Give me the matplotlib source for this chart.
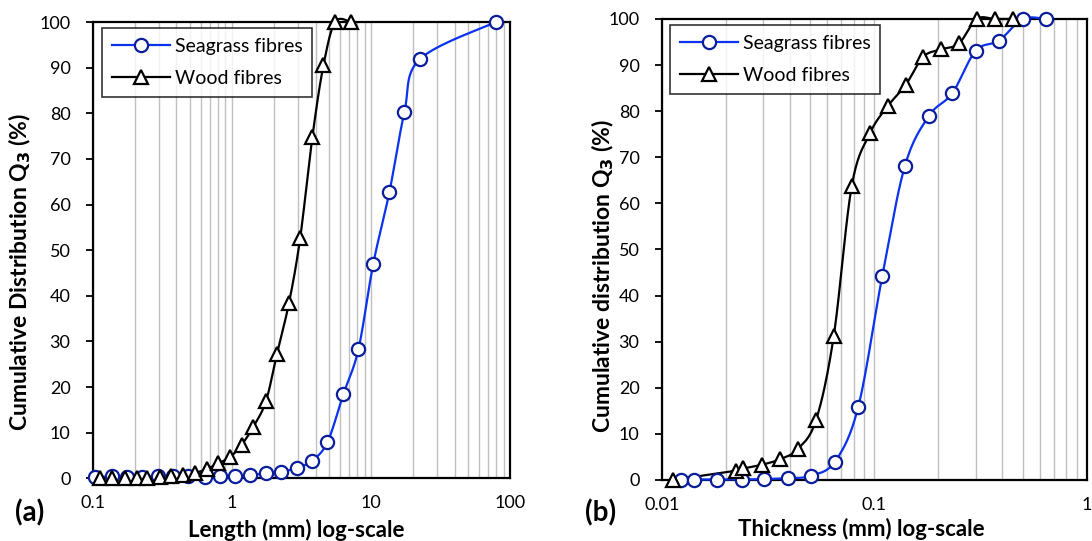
import numpy as np
import matplotlib.pyplot as plt
from matplotlib.ticker import LogLocator, FuncFormatter, MultipleLocator

plt.rcParams['font.family'] = ['Lato', 'DejaVu Sans']

# ---------------------------------------------------------------
# Data
# ---------------------------------------------------------------

# (a) length distribution
len_sea_x = [0.104, 0.137, 0.176, 0.225, 0.296, 0.38, 0.487, 0.643, 0.824,
             1.056, 1.355, 1.757, 2.26, 2.94, 3.76, 4.87, 6.35, 8.14, 10.4,
             13.6, 17.4, 22.4, 79.0]
len_sea_y = [0.3, 0.4, 0.35, 0.35, 0.5, 0.5, 0.5, 0.2, 0.4,
             0.6, 0.7, 1.1, 1.4, 2.3, 3.8, 7.9, 18.5, 28.3, 47.0,
             62.8, 80.2, 91.8, 100.0]

len_wood_x = [0.113, 0.137, 0.171, 0.207, 0.244, 0.305, 0.364, 0.449, 0.544,
              0.66, 0.80, 0.97, 1.18, 1.43, 1.76, 2.11, 2.58, 3.10, 3.80,
              4.56, 5.53, 7.18]
len_wood_y = [0.0, 0.0, 0.0, 0.0, 0.0, 0.2, 0.5, 0.7, 1.2,
              2.0, 3.3, 4.6, 7.4, 11.3, 16.9, 27.2, 38.5, 52.6, 74.9,
              90.5, 100.0, 100.0]

# (b) thickness distribution
thk_sea_x = [0.01233, 0.01419, 0.01815, 0.02379, 0.03029, 0.03944, 0.05023,
             0.06541, 0.08418, 0.1092, 0.1396, 0.1811, 0.2331, 0.3003,
             0.3866, 0.50, 0.6435]
thk_sea_y = [0.1, 0.1, 0.1, 0.1, 0.2, 0.4, 0.9,
             4.0, 15.9, 44.3, 68.2, 79.0, 83.9, 93.1,
             95.3, 100.0, 100.0]

thk_wood_x = [0.01126, 0.0223, 0.02422, 0.02955, 0.03603, 0.04365, 0.05324,
              0.06449, 0.0784, 0.0955, 0.1158, 0.1407, 0.1703, 0.2063,
              0.2506, 0.3037, 0.3702, 0.4486]
thk_wood_y = [0.0, 2.0, 2.5, 3.3, 4.5, 6.7, 13.0,
              31.2, 63.8, 75.2, 81.1, 85.7, 91.8, 93.4,
              94.7, 100.0, 100.0, 100.0]

SEA_LINE = '#0A32F0'
SEA_EDGE = '#0A1E9C'


def smooth(x, y, w, h, n=20):
    # Excel-like smoothed line (Catmull-Rom bezier) in log-x space
    u = np.log10(np.asarray(x, float)) * w
    v = np.asarray(y, float) * h
    P = np.column_stack([u, v])
    out = []
    for i in range(len(P) - 1):
        p0 = P[i - 1] if i > 0 else P[i]
        p1, p2 = P[i], P[i + 1]
        p3 = P[i + 2] if i + 2 < len(P) else P[i + 1]
        c1 = p1 + (p2 - p0) / 6
        c2 = p2 - (p3 - p1) / 6
        t = np.linspace(0, 1, n)[:, None]
        seg = ((1 - t) ** 3 * p1 + 3 * (1 - t) ** 2 * t * c1
               + 3 * (1 - t) * t ** 2 * c2 + t ** 3 * p2)
        out.append(seg if i == 0 else seg[1:])
    out = np.vstack(out)
    return 10 ** (out[:, 0] / w), out[:, 1] / h


def draw(ax, sx, sy, wx, wy, xlim, xlabel, ylabel, w, h, xl_pos, yl_pos, leg_x):
    xs, ys = smooth(sx, sy, w, h)
    ax.plot(xs, ys, color=SEA_LINE, lw=1.6, clip_on=False, zorder=3)
    ax.plot(sx, sy, ls='none', marker='o', ms=9.5, mfc='white', mec=SEA_EDGE,
            mew=1.6, clip_on=False, zorder=4)
    xw, yw = smooth(wx, wy, w, h)
    ax.plot(xw, yw, color='black', lw=1.6, clip_on=False, zorder=3)
    ax.plot(wx, wy, ls='none', marker='^', ms=10, mfc='white', mec='black',
            mew=1.6, clip_on=False, zorder=4)
    # legend proxies
    ax.plot([], [], color=SEA_LINE, lw=1.6, marker='o', ms=9.5, mfc='white',
            mec=SEA_EDGE, mew=1.6, label='Seagrass fibres')
    ax.plot([], [], color='black', lw=1.6, marker='^', ms=10, mfc='white',
            mec='black', mew=1.6, label='Wood fibres')

    ax.set_xscale('log')
    ax.set_xlim(*xlim)
    ax.set_ylim(0, 100)
    ax.yaxis.set_major_locator(MultipleLocator(10))
    ax.xaxis.set_major_locator(LogLocator(base=10))
    ax.xaxis.set_minor_locator(LogLocator(base=10, subs=np.arange(2, 10)))
    ax.xaxis.set_major_formatter(FuncFormatter(lambda v, p: '%g' % v))
    ax.grid(True, which='both', axis='x', color='#C0C0C0', lw=1.0)
    ax.set_axisbelow(True)
    ax.tick_params(axis='x', which='both', length=0, labelsize=13, pad=12)
    ax.tick_params(axis='y', which='major', direction='out', length=5,
                   width=1.3, labelsize=13, pad=11)
    for s in ax.spines.values():
        s.set_linewidth(1.6)
    ax.set_xlabel(xlabel, fontsize=16, fontweight='bold', va='baseline')
    ax.xaxis.set_label_coords(*xl_pos)
    ax.set_ylabel(ylabel, fontsize=16.5, fontweight='bold', va='center')
    ax.yaxis.set_label_coords(*yl_pos)
    leg = ax.legend(loc='upper left', fontsize=14, frameon=True, fancybox=False,
                    edgecolor='black', handlelength=3.0, handletextpad=0.25,
                    borderpad=0.5, labelspacing=0.8, borderaxespad=0,
                    bbox_to_anchor=(leg_x, 0.987))
    leg.get_frame().set_linewidth(1.2)


fig = plt.figure(figsize=(10.92, 5.41), dpi=100)
ax1 = fig.add_axes([0.0849, 0.1159, 0.3821, 0.8434])
ax2 = fig.add_axes([0.606, 0.1128, 0.3891, 0.8521])

draw(ax1, len_sea_x, len_sea_y, len_wood_x, len_wood_y, (0.1, 100),
     'Length (mm) log-scale', 'Cumulative Distribution Q$_\\mathbf{3}$ (%)', 139, 4.56,
     (0.489, -0.1287), (-0.175, 0.452), 0.022)
draw(ax2, thk_sea_x, thk_sea_y, thk_wood_x, thk_wood_y, (0.01, 1),
     'Thickness (mm) log-scale', 'Cumulative distribution Q$_\\mathbf{3}$ (%)', 212.5, 4.61,
     (0.47, -0.1215), (-0.139, 0.442), 0.0195)

fig.text(0.0137, 0.052, '(a)', fontsize=20, fontweight='bold', va='center')
fig.text(0.5357, 0.052, '(b)', fontsize=20, fontweight='bold', va='center')

fig.savefig('out.png', dpi=100)
